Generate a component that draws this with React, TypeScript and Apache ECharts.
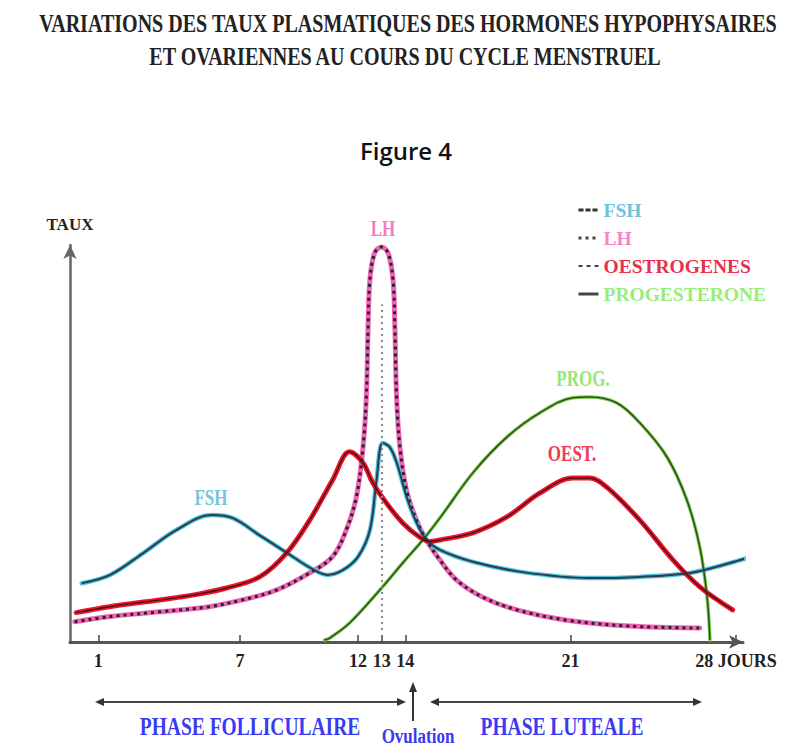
import React, { useEffect, useRef } from 'react';
import * as echarts from 'echarts';

// Days labelled under the horizontal axis
const DAY_TICKS = [1, 7, 12, 13, 14, 21, 28];

// [day, relative level]
const FSH_DATA: [number, number][] = [
  [0.3, 14.8], [1.5, 16.9], [2.9, 22.4], [4.3, 28.2], [5.8, 32.0], [6.7, 31.2],
  [7.8, 27.0], [9.0, 22.4], [10.0, 18.6], [10.7, 16.9], [11.35, 18.1], [12.0, 21.5],
  [12.5, 28.2], [12.78, 40.8], [13.04, 50.1], [13.34, 49.1], [13.64, 45.1],
  [14.06, 36.5], [14.48, 30.0], [14.91, 25.7], [15.46, 23.2], [16.86, 20.2],
  [18.97, 17.6], [21.8, 16.1], [23.9, 16.4], [26.05, 17.4], [27.45, 19.4], [28.6, 21.4],
];

const LH_DATA: [number, number][] = [
  [0.0, 5.1], [1.5, 6.4], [3.6, 7.6], [5.7, 8.9], [7.1, 10.6], [8.55, 13.1],
  [9.95, 17.4], [10.92, 21.5], [11.5, 28.2], [11.93, 36.6], [12.21, 49.2],
  [12.35, 61.8], [12.42, 78.6], [12.5, 91.2], [12.7, 98.0], [12.99, 99.5],
  [13.27, 98.0], [13.48, 91.2], [13.56, 78.6], [13.63, 61.8], [13.77, 49.2],
  [14.05, 38.3], [14.47, 30.7], [14.89, 25.7], [15.46, 20.7], [16.17, 15.6],
  [17.28, 11.3], [18.72, 8.1], [20.83, 5.5], [23.5, 4.0], [26.47, 3.5],
];

const OEST_DATA: [number, number][] = [
  [0.06, 7.4], [1.47, 8.9], [3.59, 10.6], [4.99, 11.8], [6.43, 13.6], [7.83, 16.4],
  [8.97, 22.4], [9.95, 30.7], [10.92, 40.8], [11.64, 47.9], [12.21, 45.1],
  [12.62, 40.1], [13.2, 35.0], [13.89, 30.0], [14.61, 26.4], [15.03, 25.3],
  [15.46, 25.7], [16.86, 27.5], [18.3, 31.5], [19.69, 37.5], [21.09, 41.3],
  [21.81, 41.3], [22.53, 39.0], [23.93, 30.7], [25.33, 20.7], [26.47, 13.9], [27.86, 8.1],
];

const PROG_DATA: [number, number][] = [
  [10.58, 0.5], [10.8, 1.0], [11.64, 4.8], [12.92, 13.1], [13.89, 19.9], [14.74, 25.7],
  [15.46, 31.2], [16.86, 42.6], [18.3, 51.6], [19.69, 57.7], [21.09, 61.5],
  [21.81, 61.7], [22.96, 60.2], [23.93, 55.2], [25.08, 46.6], [25.92, 35.8],
  [26.47, 23.9], [26.78, 11.3], [26.9, 0.5],
];

const LH_PEAK_DAY = 13;

const SERIF = '"Liberation Serif", "Times New Roman", serif';

function tallText(text: string, x: number, y: number, size: number, fill: string, scaleY: number, scaleX = 1, family = SERIF, weight: any = 'bold') {
  return {
    type: 'text',
    x,
    y,
    scaleX,
    scaleY,
    silent: true,
    style: {
      text,
      fill,
      fontSize: size,
      fontWeight: weight,
      fontFamily: family,
      align: 'center',
      verticalAlign: 'middle',
    },
  };
}

function arrowHead(tipX: number, tipY: number, dir: 'left' | 'right' | 'up') {
  const pts =
    dir === 'left'
      ? [[tipX, tipY], [tipX + 9, tipY - 4], [tipX + 9, tipY + 4]]
      : dir === 'right'
      ? [[tipX, tipY], [tipX - 9, tipY - 4], [tipX - 9, tipY + 4]]
      : [[tipX, tipY], [tipX - 4, tipY + 10], [tipX + 4, tipY + 10]];
  return { type: 'polygon', silent: true, shape: { points: pts }, style: { fill: '#333' } };
}

function curve(name: string, data: [number, number][], baseColor: string, baseWidth: number, overColor: string, overWidth: number, overType: any, extra: any = {}) {
  return [
    {
      type: 'line',
      name: name + ' ',
      data,
      smooth: 0.35,
      symbol: 'none',
      clip: false,
      silent: true,
      z: 2,
      itemStyle: { color: baseColor },
      lineStyle: { color: baseColor, width: baseWidth, cap: 'round', join: 'round' },
    },
    {
      type: 'line',
      name,
      data,
      smooth: 0.35,
      symbol: 'none',
      clip: false,
      silent: true,
      z: 3,
      itemStyle: { color: overColor },
      lineStyle: { color: overColor, width: overWidth, type: overType, cap: 'butt' },
      ...extra,
    },
  ];
}

const HIDDEN_ICON = { color: 'rgba(0,0,0,0)', borderColor: 'rgba(0,0,0,0)', borderWidth: 0 };

export default function App() {
  const ref = useRef<HTMLDivElement>(null);

  useEffect(() => {
    const chart = echarts.init(ref.current!, null, { renderer: 'svg' });

    const option: any = {
      animation: false,
      backgroundColor: '#ffffff',
      grid: { left: 70, right: 52, top: 245, bottom: 107 },
      legend: {
        orient: 'vertical',
        left: 572,
        top: 195,
        itemWidth: 20,
        itemHeight: 18,
        itemGap: 8,
        selectedMode: false,
        textStyle: { fontFamily: SERIF, fontWeight: 'bold', fontSize: 19.5, lineHeight: 18 },
        data: [
          { name: 'FSH', itemStyle: HIDDEN_ICON, textStyle: { color: '#6cc3da' }, lineStyle: { color: '#333', width: 3, type: [5, 2] } },
          { name: 'LH', itemStyle: HIDDEN_ICON, textStyle: { color: '#f584cc' }, lineStyle: { color: '#444', width: 3, type: [3, 4] } },
          { name: 'OESTROGENES', itemStyle: HIDDEN_ICON, textStyle: { color: '#e8304c' }, lineStyle: { color: '#444', width: 2, type: [4, 4] } },
          { name: 'PROGESTERONE', itemStyle: HIDDEN_ICON, textStyle: { color: '#98ec78' }, lineStyle: { color: '#444', width: 3, type: 'solid' } },
        ],
      },
      xAxis: {
        type: 'value',
        min: -0.2,
        max: 28.3,
        splitLine: { show: false },
        axisLine: {
          show: true,
          onZero: true,
          symbol: ['none', 'arrow'],
          symbolSize: [10, 14],
          lineStyle: { color: '#555', width: 3 },
        },
        axisTick: {
          show: true,
          inside: true,
          length: 7,
          customValues: DAY_TICKS,
          lineStyle: { color: '#444', width: 1.5 },
        },
        axisLabel: {
          show: true,
          customValues: DAY_TICKS,
          margin: 10,
          color: '#222',
          fontFamily: SERIF,
          fontWeight: 'bold',
          fontSize: 18,
          formatter: (v: number) => (v === 28 ? '28 JOURS' : String(v)),
        },
      },
      yAxis: {
        type: 'value',
        min: 0,
        max: 100,
        name: 'TAUX',
        nameLocation: 'end',
        nameGap: 12,
        nameTextStyle: { color: '#222', fontFamily: SERIF, fontWeight: 'bold', fontSize: 17 },
        splitLine: { show: false },
        axisTick: { show: false },
        axisLabel: { show: false },
        axisLine: {
          show: true,
          onZero: false,
          symbol: ['none', 'arrow'],
          symbolSize: [10, 14],
          lineStyle: { color: '#666', width: 2.5 },
        },
      },
      series: [
        ...curve('PROGESTERONE', PROG_DATA, '#7ccf4c', 3.5, '#2f4b22', 1.5, 'solid'),
        ...curve('LH', LH_DATA, '#f062b2', 5, '#2a2030', 3, [3, 4], {
          markLine: {
            silent: true,
            symbol: 'none',
            label: { show: false },
            lineStyle: { color: '#888', width: 2, type: [2, 4] },
            data: [[{ coord: [LH_PEAK_DAY, 3] }, { coord: [LH_PEAK_DAY, 85] }]],
          },
        }),
        ...curve('FSH', FSH_DATA, '#4fc3e0', 4.5, '#2b3b48', 2, 'solid'),
        ...curve('OESTROGENES', OEST_DATA, '#f0142c', 5, '#4e1018', 1.5, 'solid'),
      ],
      graphic: [
        {
          type: 'line',
          silent: true,
          shape: { x1: 11, y1: 26, x2: 11, y2: 703 },
          style: {
            lineWidth: 1.5,
            stroke: new echarts.graphic.LinearGradient(0, 0, 0, 1, [
              { offset: 0, color: '#222' },
              { offset: 1, color: '#e0e0e0' },
            ]),
          },
        },
        tallText('VARIATIONS DES TAUX PLASMATIQUES DES HORMONES HYPOPHYSAIRES', 408, 24, 19, '#222', 1.3, 1.055),
        tallText('ET OVARIENNES AU COURS DU CYCLE MENSTRUEL', 405, 57, 19, '#222', 1.3, 1.055),
        tallText('Figure 4', 406, 150, 24, '#111', 1, 1, '"Open Sans", "DejaVu Sans", sans-serif', 600),
        tallText('LH', 383, 228, 17, '#f27ac6', 1.3),
        tallText('FSH', 211, 497, 17, '#78c4da', 1.3),
        tallText('PROG.', 583, 378, 17, '#96e874', 1.3),
        tallText('OEST.', 572, 453, 17, '#ec3a56', 1.3),
        // phase arrows
        { type: 'line', silent: true, shape: { x1: 98, y1: 702, x2: 403, y2: 702 }, style: { stroke: '#444', lineWidth: 2 } },
        arrowHead(95, 702, 'left'),
        arrowHead(406, 702, 'right'),
        { type: 'line', silent: true, shape: { x1: 433, y1: 702, x2: 699, y2: 702 }, style: { stroke: '#444', lineWidth: 2 } },
        arrowHead(430, 702, 'left'),
        arrowHead(702, 702, 'right'),
        { type: 'line', silent: true, shape: { x1: 413, y1: 690, x2: 413, y2: 721 }, style: { stroke: '#333', lineWidth: 2 } },
        arrowHead(413, 682, 'up'),
        tallText('PHASE FOLLICULAIRE', 250, 727, 19.5, '#3a3af0', 1.3),
        tallText('PHASE LUTEALE', 562, 727, 19.5, '#3a3af0', 1.3),
        tallText('Ovulation', 418, 736, 17, '#3a3af0', 1.2),
      ],
    };

    chart.setOption(option);
    return () => chart.dispose();
  }, []);

  return (
    <div
      ref={ref}
      style={{ position: 'fixed', left: 0, top: 0, width: 795, height: 749, background: '#fff' }}
    />
  );
}
